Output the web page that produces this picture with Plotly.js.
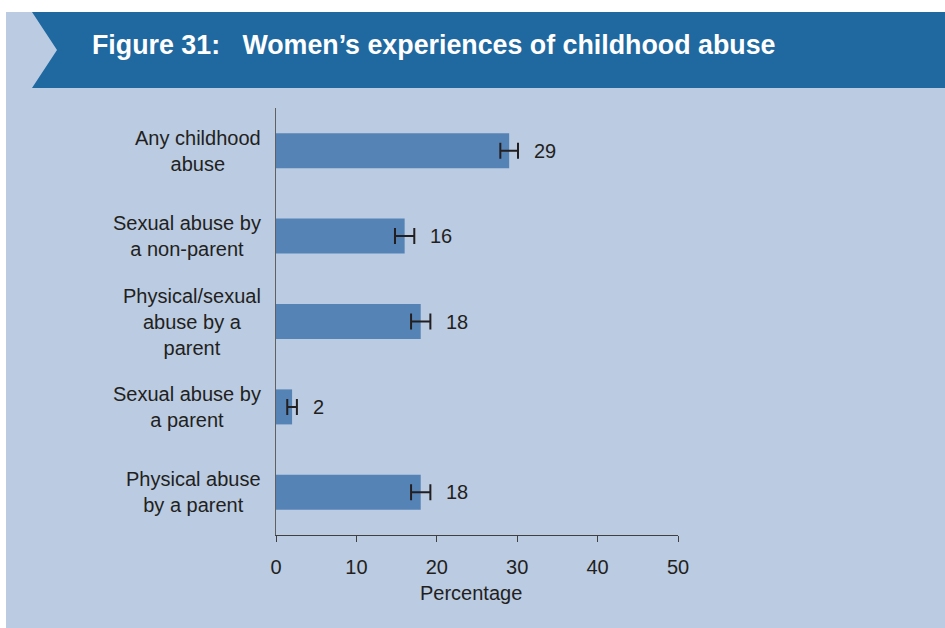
<!DOCTYPE html>
<html>
<head>
<meta charset="utf-8">
<script src="https://cdn.plot.ly/plotly-3.0.1.min.js"></script>
<style>html,body{margin:0;padding:0;background:#fff;}#chart{width:945px;height:628px;}</style>
</head>
<body>
<div id="chart"></div>
<script>
const categories = ["Any childhood abuse", "Sexual abuse by a non-parent", "Physical/sexual abuse by a parent", "Sexual abuse by a parent", "Physical abuse by a parent"];
const categoryLabels = ["Any childhood<br>abuse", "Sexual abuse by<br>a non-parent", "Physical/sexual<br>abuse by a<br>parent", "Sexual abuse by<br>a parent", "Physical abuse<br>by a parent"];
const values = [29, 16, 18, 2, 18];
const errors = [1.1, 1.2, 1.2, 0.6, 1.2];
const valueLabels = ["29", "16", "18", "2", "18"];
const tickVals = [0, 10, 20, 30, 40, 50];
const titleText = "Figure 31:\u00A0\u00A0\u00A0Women\u2019s experiences of childhood abuse";
const xTitle = "Percentage";

const W = 945, H = 628;
const L = 276, R = 678, T = 108, B = 535;
const px = x => (x - L) / (R - L);
const py = y => (B - y) / (B - T);
const txt = "#231F20";
const font = "'Liberation Sans', Arial, sans-serif";

const annotations = [];
categories.forEach((c, i) => {
  annotations.push({xref: "paper", yref: "y", x: px(263), y: c, text: categoryLabels[i], showarrow: false,
    xanchor: "right", yanchor: "middle", align: "center", font: {family: font, size: 20, color: txt}});
  annotations.push({xref: "x", yref: "y", x: values[i] + errors[i], y: c, text: valueLabels[i], showarrow: false,
    xanchor: "left", yanchor: "middle", xshift: 14, font: {family: font, size: 20, color: txt}});
});
annotations.push({xref: "paper", yref: "paper", x: px(90), y: py(45), text: "<b>" + titleText + "</b>", showarrow: false,
  xanchor: "left", yanchor: "middle", font: {family: font, size: 26.8, color: "#ffffff"}});
annotations.push({xref: "paper", yref: "paper", x: px(471), y: py(593), text: xTitle, showarrow: false,
  xanchor: "center", yanchor: "middle", font: {family: font, size: 20, color: txt}});

const shapes = [
  {type: "rect", xref: "paper", yref: "paper", x0: px(6), x1: px(945), y0: py(628), y1: py(12), fillcolor: "#BACBE2", line: {width: 0}, layer: "below"},
  {type: "path", xref: "paper", yref: "paper",
   path: `M${px(32)},${py(12)} L${px(945)},${py(12)} L${px(945)},${py(88)} L${px(32)},${py(88)} L${px(57)},${py(50)} Z`,
   fillcolor: "#1F69A0", line: {width: 0}, layer: "below"}
];

const trace = {
  type: "bar", orientation: "h", x: values, y: categories, width: 0.41,
  marker: {color: "#5683B5", line: {width: 0}},
  error_x: {type: "data", array: errors, visible: true, color: txt, thickness: 2, width: 8},
  hoverinfo: "skip"
};

const layout = {
  width: W, height: H,
  margin: {l: L, r: W - R, t: T, b: H - B, pad: 0},
  paper_bgcolor: "#ffffff", plot_bgcolor: "rgba(0,0,0,0)",
  showlegend: false,
  font: {family: font, size: 20, color: txt},
  xaxis: {range: [0, 50], tickvals: tickVals, ticktext: tickVals.map(String), ticks: "outside", ticklen: 6, tickcolor: "#404040",
    tickwidth: 1, showline: true, linecolor: "#404040", linewidth: 1, showgrid: false, zeroline: false,
    ticklabelstandoff: 8,
    tickfont: {family: font, size: 20, color: txt}},
  yaxis: {type: "category", categoryorder: "array", categoryarray: categories, autorange: "reversed",
    showticklabels: false, ticks: "", showline: true, linecolor: "#606060", linewidth: 1.5, showgrid: false, zeroline: false},
  shapes: shapes,
  annotations: annotations
};

Plotly.newPlot("chart", [trace], layout, {displayModeBar: false, staticPlot: true});
</script>
</body>
</html>
